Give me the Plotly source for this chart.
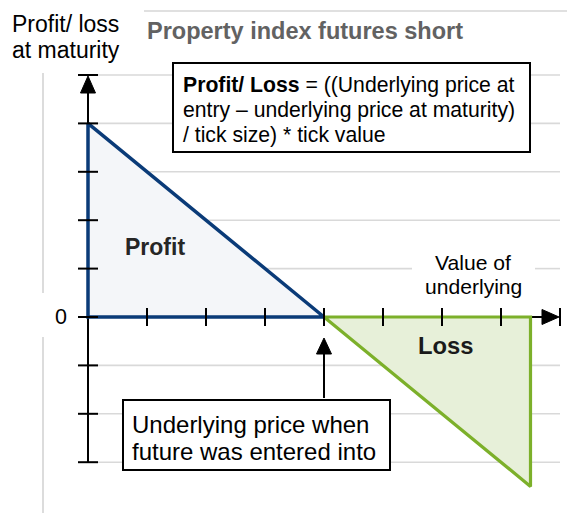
import plotly.graph_objects as go

# ---------------- data ----------------
profit_underlying = [0, 0, 4, 0]
profit_pnl = [4, 0, 0, 4]
loss_underlying = [4, 7.5, 7.5, 4]
loss_pnl = [0, 0, -3.5, 0]
grid_levels = [-3, -2, -1, 1, 2, 3, 4, 5]
y_tick_levels = [-3, -2, -1, 0, 1, 2, 3, 4, 5]
x_tick_levels = [1, 2, 3, 4, 5, 6, 7]
entry_price = 4
x_axis_end = 8
y_axis_top = 5
y_axis_bottom = -3

# ---------------- geometry ----------------
W, H = 571, 513
X0, SX = 88, 59.0      # pixel of x=0, pixels per x unit
Y0, SY = 317, 48.4     # pixel of y=0, pixels per y unit
FONT = "Arial, Liberation Sans, sans-serif"


def px(x):
    return x / W


def py(y):
    return 1 - y / H


def dy(p):  # pixels -> y data units
    return p / SY


def dx(p):
    return p / SX


fig = go.Figure()
fig.add_trace(go.Scatter(x=profit_underlying, y=profit_pnl, mode="lines", fill="toself",
                         fillcolor="#f4f6f9", line=dict(color="#0a3b78", width=3.5),
                         hoverinfo="skip", showlegend=False))
fig.add_trace(go.Scatter(x=loss_underlying, y=loss_pnl, mode="lines", fill="toself",
                         fillcolor="#e7f0d9", line=dict(color="#7cb02a", width=3.2),
                         hoverinfo="skip", showlegend=False))

shapes = []
GRID = "#d9d9d9"
# decorative light lines
shapes.append(dict(type="line", xref="paper", yref="paper", x0=px(144), x1=px(567), y0=py(11), y1=py(11),
                   line=dict(color="#e0e0e0", width=2), layer="below"))
shapes.append(dict(type="line", xref="paper", yref="paper", x0=px(43), x1=px(43), y0=py(73), y1=py(293),
                   line=dict(color="#dcdcdc", width=2), layer="below"))
shapes.append(dict(type="line", xref="paper", yref="paper", x0=px(43), x1=px(43), y0=py(337), y1=py(513),
                   line=dict(color="#dcdcdc", width=2), layer="below"))
# gridlines
for g in grid_levels:
    if g == 1:
        shapes.append(dict(type="line", xref="x", yref="y", x0=0, x1=dx(412 - X0), y0=g, y1=g,
                           line=dict(color=GRID, width=1.6), layer="below"))
        shapes.append(dict(type="line", xref="x", yref="y", x0=dx(535 - X0), x1=dx(560 - X0), y0=g, y1=g,
                           line=dict(color=GRID, width=1.6), layer="below"))
    else:
        shapes.append(dict(type="line", xref="x", yref="y", x0=0, x1=dx(560 - X0), y0=g, y1=g,
                           line=dict(color=GRID, width=1.6), layer="below"))
# axes lines
shapes.append(dict(type="line", xref="x", yref="y", x0=0, x1=0, y0=y_axis_bottom, y1=y_axis_top - dy(10),
                   line=dict(color="black", width=2), layer="below"))
shapes.append(dict(type="line", xref="x", yref="y", x0=0, x1=x_axis_end - dx(10), y0=0, y1=0,
                   line=dict(color="black", width=2), layer="below"))
# y ticks
for t in y_tick_levels:
    shapes.append(dict(type="line", xref="x", yref="y", x0=-dx(10), x1=dx(10), y0=t, y1=t,
                       line=dict(color="black", width=2), layer="above"))
# x ticks
for t in x_tick_levels:
    shapes.append(dict(type="line", xref="x", yref="y", x0=t, x1=t, y0=-dy(9), y1=dy(9),
                       line=dict(color="black", width=2), layer="above"))
shapes.append(dict(type="line", xref="x", yref="y", x0=x_axis_end, x1=x_axis_end, y0=-dy(9), y1=dy(9),
                   line=dict(color="black", width=2), layer="above"))


def tri(points):
    p = "M " + " L ".join(f"{px(a):.5f},{py(b):.5f}" for a, b in points) + " Z"
    return dict(type="path", xref="paper", yref="paper", path=p, fillcolor="black",
                line=dict(color="black", width=1), layer="above")


# arrowheads
shapes.append(tri([(88, 76), (80.5, 93), (95.5, 93)]))
shapes.append(tri([(559, 317), (542, 309.5), (542, 324.5)]))
ex = X0 + entry_price * SX
shapes.append(tri([(ex, 338), (ex - 7.5, 354), (ex + 7.5, 354)]))
# entry arrow shaft
shapes.append(dict(type="line", xref="paper", yref="paper", x0=px(ex), x1=px(ex), y0=py(353), y1=py(398),
                   line=dict(color="black", width=2), layer="above"))
# boxes
shapes.append(dict(type="rect", xref="paper", yref="paper", x0=px(173), x1=px(530), y0=py(63), y1=py(152),
                   fillcolor="white", line=dict(color="black", width=2), layer="above"))
shapes.append(dict(type="rect", xref="paper", yref="paper", x0=px(123), x1=px(390), y0=py(400), y1=py(470),
                   fillcolor="white", line=dict(color="black", width=2), layer="above"))

annotations = []


def txt(text, x, y, size, color="black", anchor="left"):
    annotations.append(dict(text=text, x=px(x), y=py(y), xref="paper", yref="paper", xanchor=anchor,
                            yanchor="middle", showarrow=False, borderpad=0,
                            font=dict(family=FONT, size=size, color=color)))


txt("Profit/ loss", 11, 24, 23)
txt("at maturity", 11, 50, 23)
txt("<b>Property index futures short</b>", 146, 31, 23.5, "#626262")
txt("<b>Profit/ Loss</b> = ((Underlying price at", 182, 85, 21.2)
txt("entry – underlying price at maturity)", 182, 110, 21.2)
txt("/ tick size) * tick value", 182, 134.5, 21.2)
txt("<b>Profit</b>", 155, 247.5, 23, "#262626", "center")
txt("<b>Loss</b>", 445.5, 345.5, 23.8, "#1a1a1a", "center")
txt("Value of", 473, 262, 21.1, "black", "center")
txt("underlying", 473, 286.5, 21.1, "black", "center")
txt("Underlying price when", 131, 424, 24)
txt("future was entered into", 131, 451, 24)
txt("0", 61, 317, 21.5, "black", "center")

fig.update_layout(
    width=W, height=H, autosize=False,
    margin=dict(l=0, r=0, t=0, b=0, pad=0),
    paper_bgcolor="white", plot_bgcolor="white",
    xaxis=dict(range=[-X0 / SX, (W - X0) / SX], visible=False, fixedrange=True),
    yaxis=dict(range=[-(H - Y0) / SY, Y0 / SY], visible=False, fixedrange=True),
    shapes=shapes, annotations=annotations,
    showlegend=False,
)
fig.write_html("out.html", config={"displayModeBar": False},
               post_script="document.body.style.margin='0';document.body.style.padding='0';")
